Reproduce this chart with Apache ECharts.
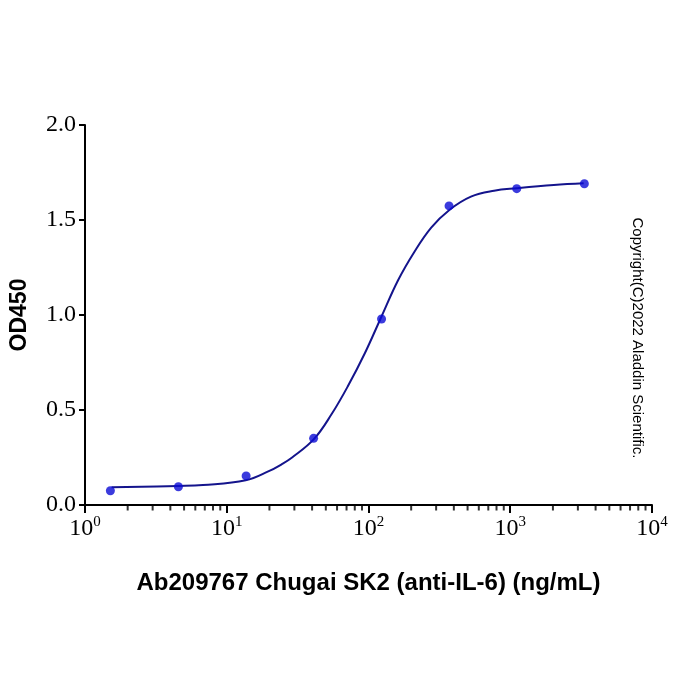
<!DOCTYPE html>
<html>
<head>
<meta charset="utf-8">
<script src="https://cdn.jsdelivr.net/npm/echarts@6/dist/echarts.min.js"></script>
<style>
  html, body { margin: 0; padding: 0; background: #fff; }
  #chart { width: 700px; height: 700px; }
</style>
</head>
<body>
<div id="chart"></div>
<script>
// measured points (ng/mL, OD450)
const conc = [1.51, 4.56, 13.7, 41, 123.6, 370, 1111, 3333]
const od = [0.075, 0.096, 0.153, 0.351, 0.979, 1.574, 1.665, 1.691]

// fitted curve
const fitX = [1.54, 4.56, 6.8, 13.6, 19.8, 24.5, 28.9, 41, 55.1, 72.1, 94.4, 122, 162, 211, 277, 372, 528, 769, 1112, 2028, 3296]
const fitY = [0.093, 0.100, 0.105, 0.130, 0.178, 0.215, 0.250, 0.345, 0.480, 0.630, 0.800, 0.983, 1.184, 1.333, 1.460, 1.553, 1.623, 1.654, 1.667, 1.684, 1.693]

// minor ticks of the log axis
const minorTicks = [2, 3, 4, 5, 6, 7, 8, 9, 20, 30, 40, 50, 60, 70, 80, 90,
  200, 300, 400, 500, 600, 700, 800, 900, 2000, 3000, 4000, 5000, 6000, 7000, 8000, 9000]

const chart = echarts.init(document.getElementById('chart'))

const option = {
  backgroundColor: '#fff',
  animation: false,
  grid: { left: 81, right: 48, top: 125, bottom: 195 },
  xAxis: {
    type: 'log',
    logBase: 10,
    min: 1,
    max: 10000,
    name: 'Ab209767 Chugai SK2 (anti-IL-6) (ng/mL)',
    nameLocation: 'middle',
    nameGap: 66,
    nameTextStyle: { fontFamily: 'Liberation Sans', fontWeight: 'bold', fontSize: 24, color: '#000' },
    axisLine: { lineStyle: { color: '#000', width: 2 } },
    axisTick: { length: 8, lineStyle: { color: '#000', width: 2 } },
    splitLine: { show: false },
    axisLabel: {
      margin: 10,
      formatter: function (v) {
        return '{b|10}{s|' + Math.round(Math.log10(v)) + '}'
      },
      rich: {
        b: { fontFamily: 'Liberation Serif', fontSize: 24, color: '#000' },
        s: { fontFamily: 'Liberation Serif', fontSize: 15, color: '#000', padding: [0, 0, 12, 0] }
      }
    }
  },
  yAxis: {
    type: 'value',
    min: 0,
    max: 2,
    interval: 0.5,
    name: 'OD450',
    nameLocation: 'middle',
    nameGap: 54,
    nameTextStyle: { fontFamily: 'Liberation Sans', fontWeight: 'bold', fontSize: 23, color: '#000' },
    axisLine: { show: true, lineStyle: { color: '#000', width: 2 } },
    axisTick: { show: true, length: 6, lineStyle: { color: '#000', width: 2 } },
    splitLine: { show: false },
    axisLabel: {
      margin: 9,
      fontFamily: 'Liberation Serif',
      fontSize: 24,
      color: '#000',
      formatter: v => v.toFixed(1)
    }
  },
  graphic: [{
    type: 'text',
    x: 637,
    y: 338,
    rotation: -Math.PI / 2,
    style: {
      text: 'Copyright(C)2022 Aladdin Scientific.',
      fontFamily: 'Liberation Sans',
      fontSize: 15,
      fill: '#000',
      align: 'center',
      verticalAlign: 'middle'
    }
  }],
  series: [
    {
      name: 'fit',
      type: 'line',
      data: fitX.map((x, i) => [x, fitY[i]]),
      smooth: 0.4,
      showSymbol: false,
      lineStyle: { color: '#14148c', width: 2 },
      silent: true,
      z: 2
    },
    {
      name: 'OD450',
      type: 'scatter',
      data: conc.map((x, i) => [x, od[i]]),
      symbolSize: 9,
      itemStyle: { color: '#0a0ad4' },
      z: 3
    },
    {
      name: 'minor',
      type: 'scatter',
      data: minorTicks.map(x => [x, 0]),
      symbol: 'rect',
      symbolSize: [2, 5],
      symbolOffset: [0, 3],
      itemStyle: { color: '#000' },
      clip: false,
      silent: true
    }
  ]
}

chart.setOption(option)
</script>
</body>
</html>
